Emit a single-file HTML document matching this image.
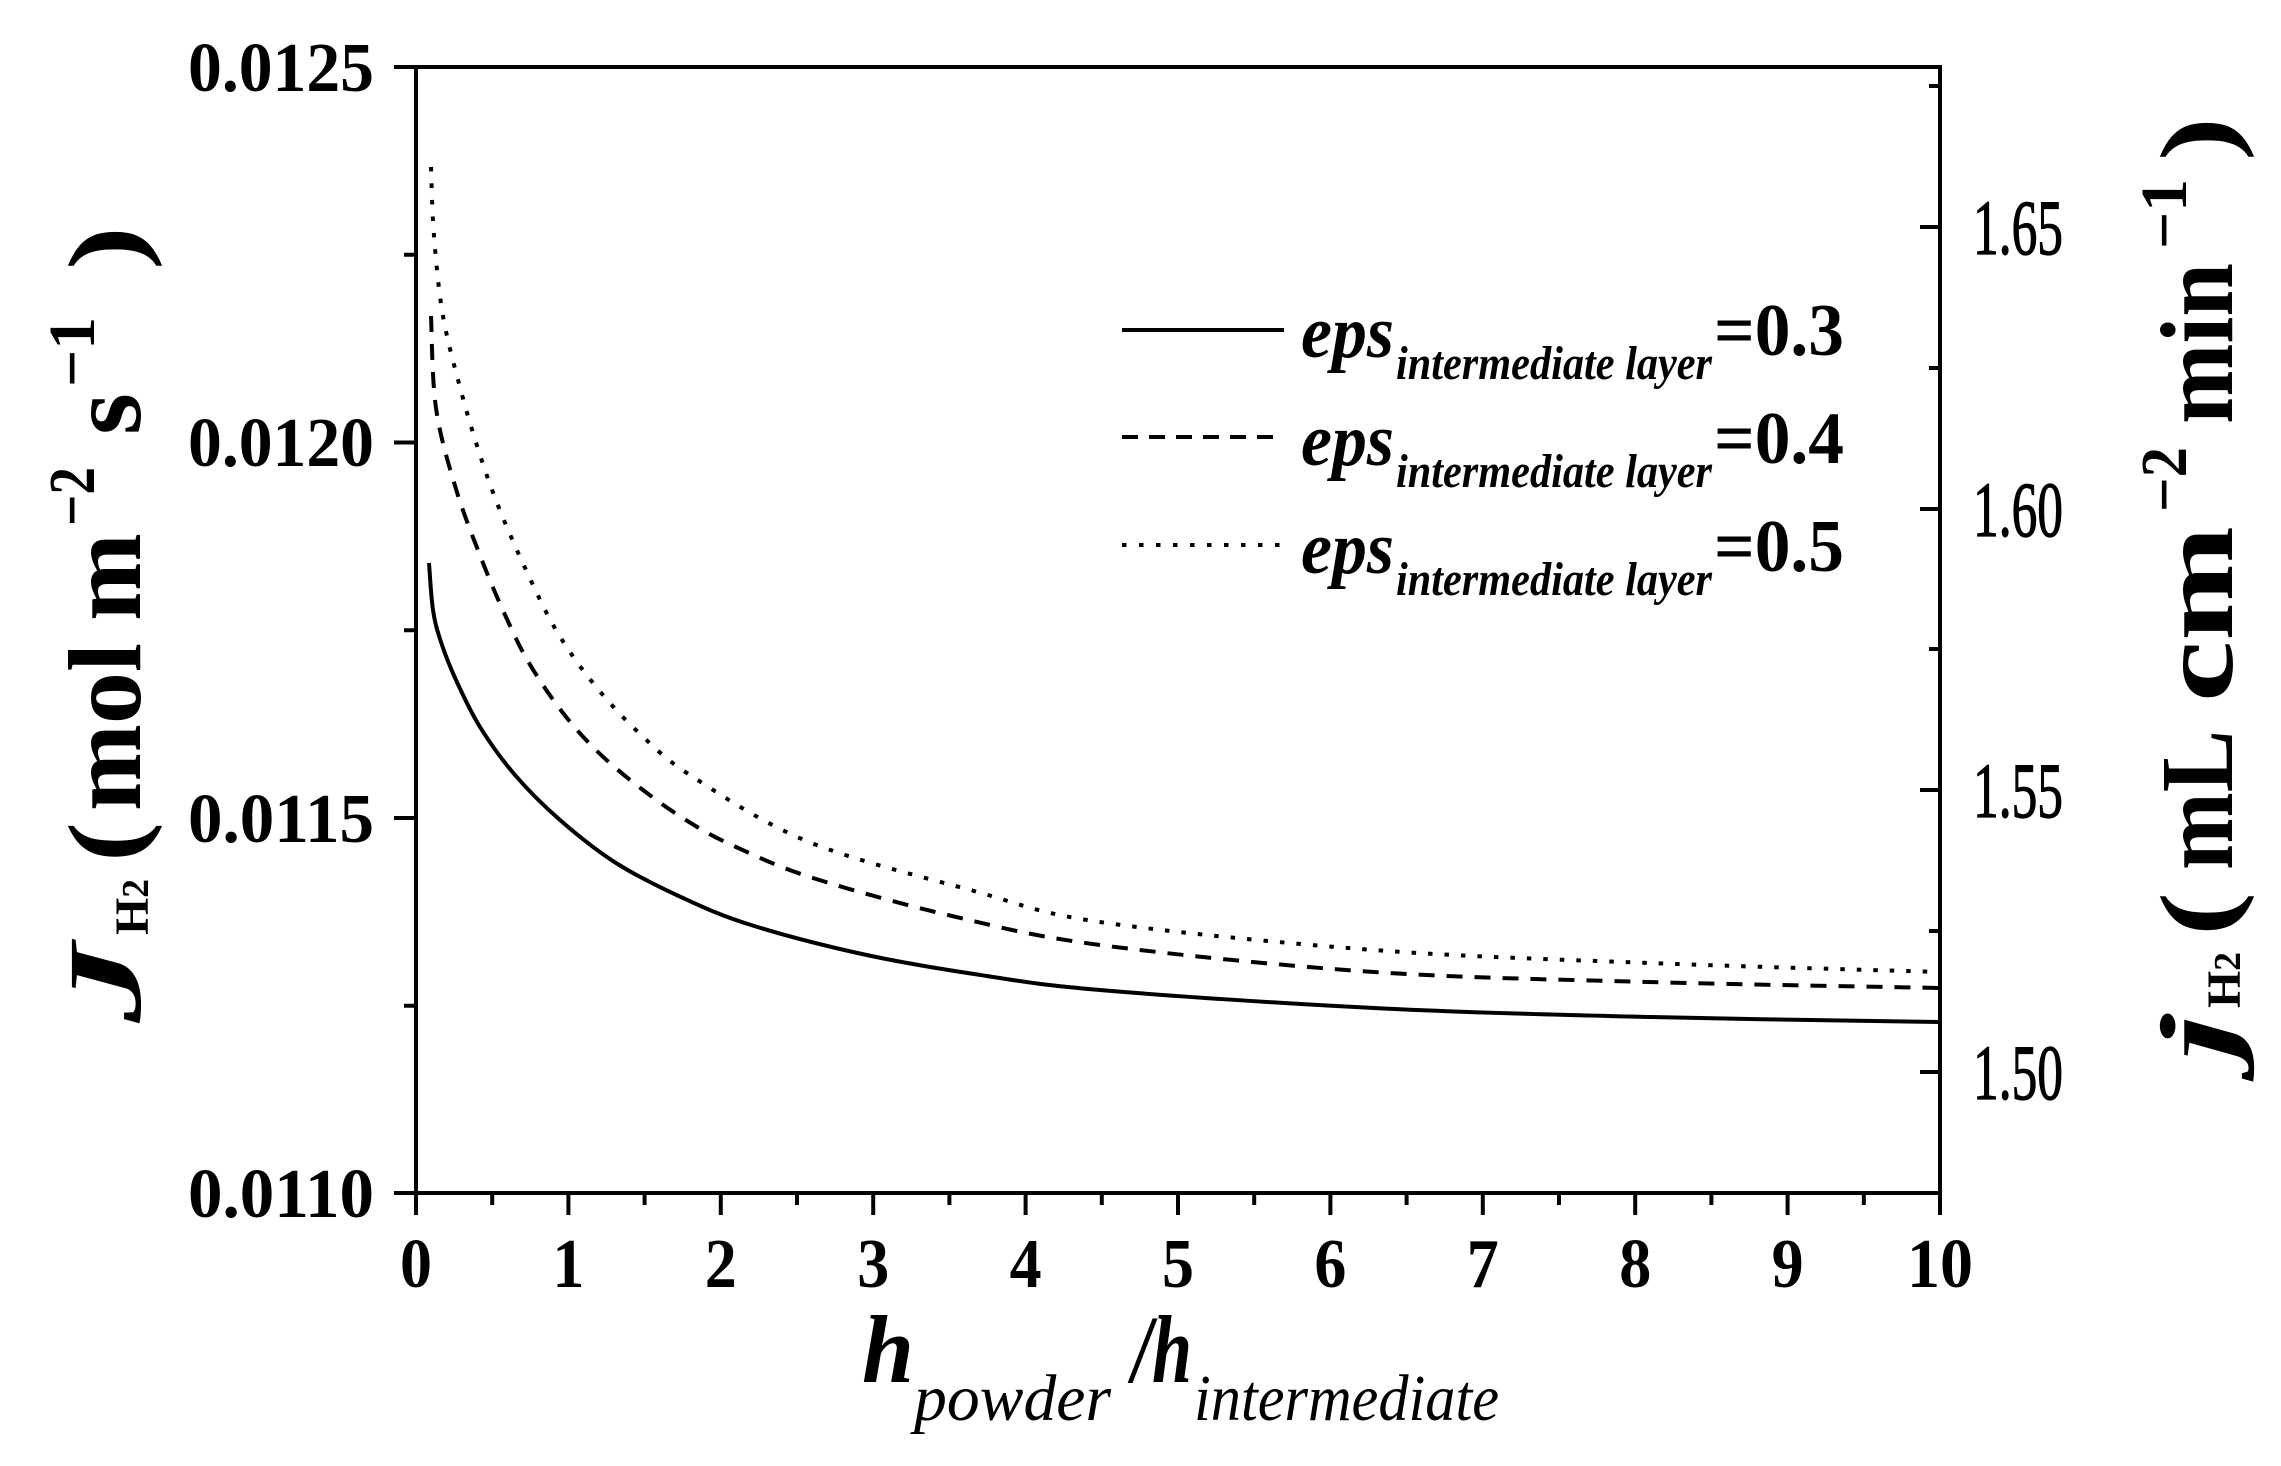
<!DOCTYPE html>
<html><head><meta charset="utf-8"><style>
html,body{margin:0;padding:0;background:#fff;}
svg{display:block;}
text{font-family:"Liberation Serif","Times New Roman",serif;fill:#000;}
</style></head><body>
<svg id="s" width="2281" height="1466" viewBox="0 0 2281 1466" xmlns="http://www.w3.org/2000/svg">
<rect width="2281" height="1466" fill="#fff"/>
<g id="ax" stroke="#000" stroke-width="4" fill="none">
<rect x="416" y="67" width="1524" height="1126"/>
</g>
<g id="curves" fill="none" stroke="#000" stroke-width="4"></g>
<g font-weight="bold" font-size="70" text-anchor="end">
<text x="374" y="91" textLength="186" lengthAdjust="spacingAndGlyphs">0.0125</text>
<text x="374" y="466" textLength="186" lengthAdjust="spacingAndGlyphs">0.0120</text>
<text x="374" y="842" textLength="186" lengthAdjust="spacingAndGlyphs">0.0115</text>
<text x="374" y="1217" textLength="186" lengthAdjust="spacingAndGlyphs">0.0110</text>
</g>
<g font-size="78" text-anchor="start" stroke="#000" stroke-width="1.2">
<text x="1973" y="254" textLength="90" lengthAdjust="spacingAndGlyphs">1.65</text>
<text x="1973" y="536" textLength="90" lengthAdjust="spacingAndGlyphs">1.60</text>
<text x="1973" y="817" textLength="90" lengthAdjust="spacingAndGlyphs">1.55</text>
<text x="1973" y="1099" textLength="90" lengthAdjust="spacingAndGlyphs">1.50</text>
</g>
<g id="xl" font-weight="bold" font-size="70" text-anchor="middle"></g>
<text y="1382" font-size="96" font-weight="bold" font-style="italic" x="862" textLength="52" lengthAdjust="spacingAndGlyphs">h</text>
<text x="914" y="1420" font-size="66" font-style="italic" textLength="197" lengthAdjust="spacingAndGlyphs">powder</text>
<text x="1132" y="1382" font-size="96" font-weight="bold" font-style="italic" textLength="60" lengthAdjust="spacingAndGlyphs">/h</text>
<text x="1194" y="1420" font-size="66" font-style="italic" textLength="305" lengthAdjust="spacingAndGlyphs">intermediate</text>
<g transform="translate(140,1023) rotate(-90)" font-weight="bold">
<text x="0" y="0" font-size="104" font-style="italic" textLength="80" lengthAdjust="spacingAndGlyphs">J</text>
<text x="88" y="8" font-size="48" textLength="56" lengthAdjust="spacingAndGlyphs">H<tspan font-size="38">2</tspan></text>
<text x="161" y="0" font-size="104" textLength="40" lengthAdjust="spacingAndGlyphs">(</text>
<text x="212" y="0" font-size="104" textLength="168" lengthAdjust="spacingAndGlyphs">mol</text>
<text x="402" y="0" font-size="104" textLength="88" lengthAdjust="spacingAndGlyphs">m</text>
<text x="497" y="-46" font-size="66" textLength="59" lengthAdjust="spacingAndGlyphs">−2</text>
<text x="588" y="0" font-size="104" textLength="42" lengthAdjust="spacingAndGlyphs">s</text>
<text x="636" y="-46" font-size="66" textLength="70" lengthAdjust="spacingAndGlyphs">−1</text>
<text x="753" y="0" font-size="104" textLength="44" lengthAdjust="spacingAndGlyphs">)</text>
</g>
<g transform="translate(2232,1060) rotate(-90)" font-weight="bold">
<text x="0" y="0" font-size="104" font-style="italic" textLength="46" lengthAdjust="spacingAndGlyphs">j</text>
<text x="52" y="8" font-size="48" textLength="56" lengthAdjust="spacingAndGlyphs">H<tspan font-size="38">2</tspan></text>
<text x="124" y="0" font-size="104" textLength="44" lengthAdjust="spacingAndGlyphs">(</text>
<text x="190" y="0" font-size="104" textLength="140" lengthAdjust="spacingAndGlyphs">mL</text>
<text x="358" y="0" font-size="104" textLength="176" lengthAdjust="spacingAndGlyphs">cm</text>
<text x="548" y="-46" font-size="66" textLength="65" lengthAdjust="spacingAndGlyphs">−2</text>
<text x="636" y="0" font-size="104" textLength="161" lengthAdjust="spacingAndGlyphs">min</text>
<text x="811" y="-46" font-size="66" textLength="70" lengthAdjust="spacingAndGlyphs">−1</text>
<text x="899" y="0" font-size="104" textLength="44" lengthAdjust="spacingAndGlyphs">)</text>
</g>
<g stroke="#000" stroke-width="4" fill="none">
<line x1="1122" y1="330" x2="1284" y2="330"/>
<line x1="1122" y1="437" x2="1284" y2="437" stroke-dasharray="16 11"/>
<line x1="1122" y1="545" x2="1284" y2="545" stroke-dasharray="4.5 12.5"/>
</g>
<g id="leg"></g>
</svg>
<script>
(function(){
var ns="http://www.w3.org/2000/svg",s=document.getElementById('s');
function el(t,a,p,txt){var e=document.createElementNS(ns,t);for(var k in a)e.setAttribute(k,a[k]);if(txt!=null)e.textContent=txt;(p||s).appendChild(e);return e;}
var ax=document.getElementById('ax'),xl=document.getElementById('xl');
var x0=416,dx=152.4;
for(var i=0;i<=20;i++){var x=x0+dx*i/2,maj=i%2==0;
 el('line',{x1:x,y1:1193,x2:x,y2:1193+(maj?22:12)},ax);
 if(maj) el('text',{x:x,y:1287,textLength:(i==20?66:32),lengthAdjust:'spacingAndGlyphs'},xl,String(i/2));}
var ly=[67,254.75,442.5,630.25,818,1005.75,1193];
ly.forEach(function(y,i){el('line',{x1:416,y1:y,x2:416-(i%2==0?22:12),y2:y},ax);});
var ry=[86,227,368,509,649,790,931,1072];
ry.forEach(function(y,i){var maj=(i%2==1);el('line',{x1:1940,y1:y,x2:1940-(maj?20:11),y2:y},ax);});
function path(p){var d='M'+p[0][0]+','+p[0][1];
 for(var i=0;i<p.length-1;i++){var a=p[i-1]||p[i],b=p[i],c=p[i+1],e=p[i+2]||c;
  d+=' C'+(b[0]+(c[0]-a[0])/6)+','+(b[1]+(c[1]-a[1])/6)+' '+(c[0]-(e[0]-b[0])/6)+','+(c[1]-(e[1]-b[1])/6)+' '+c[0]+','+c[1];}
 return d;}
var g=document.getElementById('curves');
var S=[[429,563],[433,610],[441,642],[456,680],[480,727],[515,775],[560,820],[616,863],[683,898],[751,925],[862,954],[974,974],[1100,990],[1374,1008],[1649,1017],[1940,1022]];
var D=[[431,316],[436,408],[456,489],[483,563],[506,617],[529,663],[563,713],[599,753],[643,790],[689,822],[736,847],[813,878],[952,916],[1100,945],[1374,972],[1649,982],[1940,988]];
var T=[[431,167],[434,236],[443,316],[461,391],[480,455],[499,508],[526,570],[556,630],[593,683],[639,733],[693,777],[809,842],[974,891],[1100,922],[1374,950],[1649,963],[1940,972]];
el('path',{d:path(S)},g);
el('path',{d:path(D),'stroke-dasharray':'16 12'},g);
el('path',{d:path(T),'stroke-dasharray':'4.5 12'},g);
var leg=document.getElementById('leg');
[['0.3',357],['0.4',465],['0.5',573]].forEach(function(r){
 el('text',{x:1301,y:r[1],'font-size':74,'font-weight':'bold','font-style':'italic',textLength:93,lengthAdjust:'spacingAndGlyphs'},leg,'eps');
 el('text',{x:1396,y:r[1]+22,'font-size':48,'font-weight':'bold','font-style':'italic',textLength:316,lengthAdjust:'spacingAndGlyphs'},leg,'intermediate layer');
 el('text',{x:1714,y:r[1]-2,'font-size':74,'font-weight':'bold',textLength:130,lengthAdjust:'spacingAndGlyphs'},leg,'='+r[0]);
});
})();
</script>
</body></html>
